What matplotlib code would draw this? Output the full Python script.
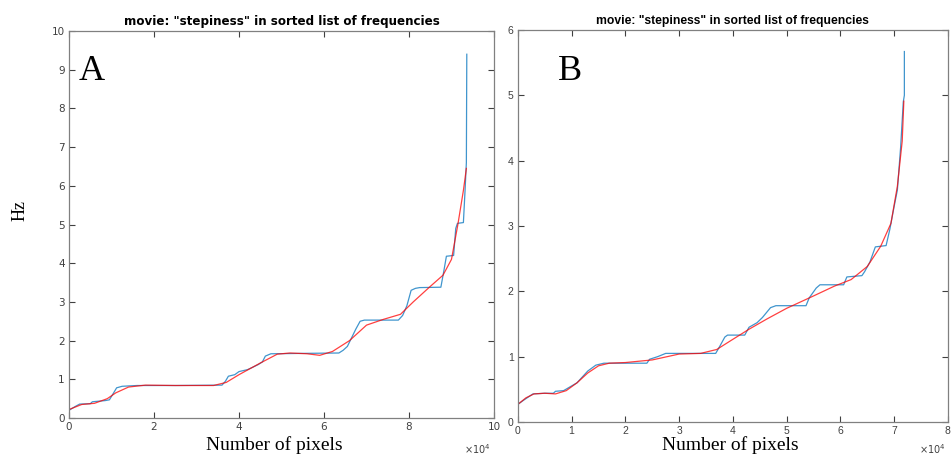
import matplotlib
matplotlib.use('Agg')
import matplotlib.pyplot as plt

# panel A: sorted frequencies (x in units of 1e4 pixels, y in Hz)
a_sorted_x = [0, 0.15, 0.25, 0.5, 0.55, 0.85, 0.95, 1.05, 1.12, 1.25, 1.6, 2.5, 3.6, 3.68,
              3.75, 3.9, 4.0, 4.2, 4.3, 4.45, 4.55, 4.62, 4.75, 5.5, 6.35, 6.45, 6.55, 6.75,
              6.85, 6.95, 7.75, 7.85, 7.95, 8.05, 8.15, 8.25, 8.75, 8.82, 8.88, 9.05, 9.1,
              9.14, 9.28, 9.32, 9.35, 9.36]
a_sorted_y = [0.2, 0.3, 0.36, 0.37, 0.42, 0.45, 0.47, 0.65, 0.78, 0.82, 0.84, 0.84, 0.85, 0.95,
              1.08, 1.12, 1.2, 1.25, 1.3, 1.38, 1.45, 1.6, 1.66, 1.67, 1.68, 1.75, 1.85, 2.3,
              2.5, 2.53, 2.53, 2.65, 2.9, 3.3, 3.35, 3.37, 3.38, 3.8, 4.18, 4.2, 4.9,
              5.03, 5.05, 5.9, 6.6, 9.4]
a_fit_x = [0, 0.3, 0.6, 0.9, 1.1, 1.4, 1.8, 2.5, 3.4, 3.7, 4.0, 4.5, 4.9, 5.2, 5.6, 5.9, 6.2,
           6.6, 7.0, 7.4, 7.8, 8.1, 8.5, 8.8, 9.0, 9.15, 9.28, 9.35]
a_fit_y = [0.22, 0.35, 0.38, 0.5, 0.65, 0.8, 0.85, 0.84, 0.84, 0.92, 1.12, 1.42, 1.65, 1.68,
           1.66, 1.62, 1.72, 2.0, 2.4, 2.55, 2.68, 3.0, 3.4, 3.69, 4.1, 5.0, 5.88, 6.45]

# panel B
b_sorted_x = [0, 0.1, 0.28, 0.5, 0.66, 0.7, 0.85, 1.1, 1.3, 1.45, 1.6, 2.4, 2.45, 2.6, 2.75,
              3.68, 3.75, 3.85, 3.9, 4.22, 4.3, 4.45, 4.55, 4.7, 4.8, 5.36, 5.42, 5.55, 5.62,
              6.06, 6.12, 6.4, 6.45, 6.55, 6.65, 6.85, 6.92, 7.0, 7.06, 7.12, 7.17, 7.19, 7.19]
b_sorted_y = [0.27, 0.33, 0.43, 0.44, 0.44, 0.47, 0.48, 0.6, 0.78, 0.87, 0.9, 0.9, 0.96, 1.0,
              1.05, 1.05, 1.15, 1.3, 1.33, 1.33, 1.45, 1.52, 1.6, 1.75, 1.78, 1.78, 1.9, 2.05,
              2.1, 2.1, 2.22, 2.24, 2.3, 2.45, 2.68, 2.7, 2.95, 3.3, 3.55, 4.2, 4.9, 5.0, 5.67]
b_fit_x = [0, 0.15, 0.3, 0.5, 0.7, 0.9, 1.1, 1.3, 1.5, 1.7, 2.0, 2.5, 3.0, 3.4, 3.7, 3.95,
           4.3, 4.64, 5.0, 5.45, 5.89, 6.2, 6.5, 6.75, 6.94, 7.06, 7.15, 7.18]
b_fit_y = [0.27, 0.37, 0.43, 0.44, 0.43, 0.48, 0.6, 0.75, 0.86, 0.9, 0.91, 0.95, 1.04, 1.05,
           1.11, 1.24, 1.42, 1.58, 1.74, 1.91, 2.08, 2.18, 2.38, 2.69, 3.04, 3.61, 4.3, 4.91]

title = 'movie: "stepiness" in sorted list of frequencies'
blue = '#0072BD'
red = '#FF0000'
gray = '#808080'


def style_axes(ax, xmax, ymax, xstep, font):
    ax.set_xlim(0, xmax)
    ax.set_ylim(0, ymax)
    ax.set_xticks(range(0, xmax + 1, xstep))
    ax.set_yticks(range(0, ymax + 1))
    ax.tick_params(direction='in', top=True, right=True, length=4, width=0.8,
                   colors='#404040', labelsize=7.5, pad=3)
    for lab in ax.get_xticklabels() + ax.get_yticklabels():
        lab.set_family(font)
    for s in ax.spines.values():
        s.set_color(gray)
        s.set_linewidth(0.9)


fig = plt.figure(figsize=(9.52, 4.58), dpi=100)
axA = fig.add_axes([0.0725, 0.0873, 0.4464, 0.845])
axB = fig.add_axes([0.544, 0.0786, 0.4517, 0.856])

axA.plot(a_sorted_x, a_sorted_y, color=blue, lw=0.9, alpha=0.75)
axA.plot(a_fit_x, a_fit_y, color=red, lw=0.9, alpha=0.75)
style_axes(axA, 10, 10, 2, 'DejaVu Sans')
axA.set_title(title, fontsize=8.6, fontweight='bold', pad=4, family='DejaVu Sans')

axB.plot(b_sorted_x, b_sorted_y, color=blue, lw=0.9, alpha=0.75)
axB.plot(b_fit_x, b_fit_y, color=red, lw=0.9, alpha=0.75)
style_axes(axB, 8, 6, 1, 'Liberation Sans')
axB.set_title(title, fontsize=8.7, fontweight='bold', pad=4, family='Liberation Sans')

fig.text(92 / 952, 1 - 71 / 458, 'A', family='Liberation Serif', fontsize=26,
         ha='center', va='center')
fig.text(570 / 952, 1 - 72 / 458, 'B', family='Liberation Serif', fontsize=26,
         ha='center', va='center')
fig.text(20 / 952, 1 - 210 / 458, 'Hz', family='Liberation Serif', fontsize=13,
         rotation=90, ha='center', va='center')
fig.text(274 / 952, 1 - 445 / 458, 'Number of pixels', family='Liberation Serif',
         fontsize=14, ha='center', va='center')
fig.text(730 / 952, 1 - 445 / 458, 'Number of pixels', family='Liberation Serif',
         fontsize=14, ha='center', va='center')
fig.text(477 / 952, 1 - 449 / 458, r'$\times10^4$', fontsize=7, color='#404040',
         ha='center', va='center')
fig.text(932 / 952, 1 - 449 / 458, r'$\times10^4$', fontsize=7, color='#404040',
         ha='center', va='center')

plt.savefig('out.png', dpi=100)
